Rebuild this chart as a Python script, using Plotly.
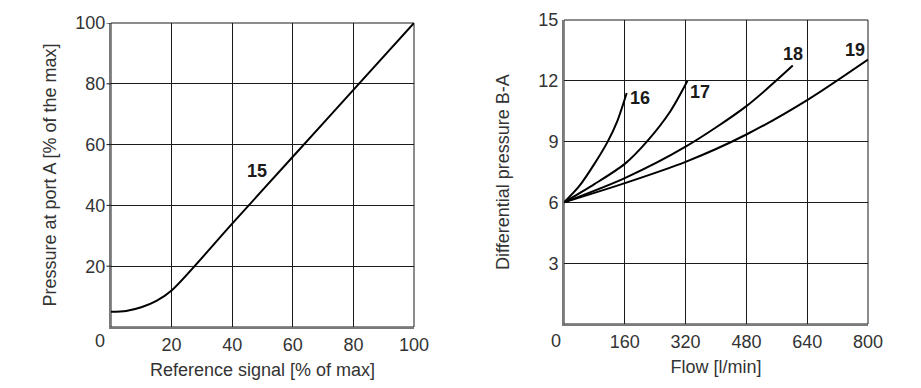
import plotly.graph_objects as go

# Left chart: pressure at port A vs reference signal (curve 15)
ref_signal = [0, 5, 10, 15, 20, 40, 60, 80, 100]
pressure_a = [5, 5.3, 6.5, 8.6, 12, 34, 56, 78, 100]

# Right chart: differential pressure B-A vs flow
flow_16 = [0, 40, 80, 115, 140, 165]
dp_16 = [6, 6.8, 7.9, 9, 10, 11.4]
flow_17 = [0, 80, 160, 218, 280, 325]
dp_17 = [6, 6.9, 7.9, 9, 10.5, 12]
flow_18 = [0, 160, 320, 480, 602]
dp_18 = [6, 7.2, 8.75, 10.75, 12.75]
flow_19 = [0, 160, 320, 480, 640, 800]
dp_19 = [6, 6.95, 8.0, 9.35, 11.05, 13.05]

curve_labels = ["15", "16", "17", "18", "19"]
label_pos = [(48.2, 51.3), (200, 11.15), (358, 11.45), (603, 13.3), (766, 13.5)]

left_xticks = [20, 40, 60, 80, 100]
left_yticks = [20, 40, 60, 80, 100]
right_xticks = [160, 320, 480, 640, 800]
right_yticks = [3, 6, 9, 12, 15]

FONT = "Liberation Sans"
TXT = "#333333"
FS = 18

fig = go.Figure()
line = dict(color="black", width=2, shape="spline", smoothing=0.8)
fig.add_trace(go.Scatter(x=ref_signal, y=pressure_a, mode="lines", line=line, xaxis="x", yaxis="y"))
for fx, dy in [(flow_16, dp_16), (flow_17, dp_17), (flow_18, dp_18), (flow_19, dp_19)]:
    fig.add_trace(go.Scatter(x=fx, y=dy, mode="lines", line=line, xaxis="x2", yaxis="y2"))

ax_common = dict(showline=True, linecolor="#7a7a7a", linewidth=2, mirror=False,
                 showgrid=True, gridcolor="#1a1a1a", gridwidth=1, zeroline=False,
                 ticks="", tickfont=dict(family=FONT, size=FS, color=TXT), automargin=False,
                 title_font=dict(family=FONT, size=FS, color=TXT))

fig.update_layout(
    width=921, height=388, margin=dict(l=0, r=0, t=0, b=0),
    paper_bgcolor="white", plot_bgcolor="white", showlegend=False,
    font=dict(family=FONT, color=TXT),
    xaxis=dict(domain=[111/921, 414/921], range=[0, 100], tickvals=left_xticks,
               title=dict(text="Reference signal [% of max]", standoff=10), anchor="y", **ax_common),
    yaxis=dict(domain=[1-327/388, 1-23/388], range=[0, 100], tickvals=left_yticks,
               title=dict(text="Pressure at port A [% of the max]", standoff=14), anchor="x", **ax_common),
    xaxis2=dict(domain=[564/921, 868/921], range=[0, 800], tickvals=right_xticks,
                title=dict(text="Flow [l/min]", standoff=10), anchor="y2", **ax_common),
    yaxis2=dict(domain=[1-324/388, 1-20/388], range=[0, 15], tickvals=right_yticks,
                title=dict(text="Differential pressure B-A", standoff=24), anchor="x2", **ax_common),
)

# top / right border lines
fig.add_shape(type="rect", xref="x domain", yref="y domain", x0=0, x1=1, y0=0, y1=1,
              line=dict(color="#1a1a1a", width=1), layer="below")
fig.add_shape(type="rect", xref="x2 domain", yref="y2 domain", x0=0, x1=1, y0=0, y1=1,
              line=dict(color="#1a1a1a", width=1), layer="below")
# short outside tick marks on left chart's y axis
for tv in left_yticks:
    fig.add_shape(type="line", xref="x domain", yref="y", x0=-0.015, x1=0, y0=tv, y1=tv,
                  line=dict(color="#1a1a1a", width=1))

# origin "0" labels
for x0 in (100, 556):
    fig.add_annotation(text="0", xref="paper", yref="paper", x=x0/921, y=1-341/388,
                       xanchor="center", yanchor="middle",
                       showarrow=False, font=dict(family=FONT, size=FS, color=TXT))

# curve labels
for i, (lab, (lx, ly)) in enumerate(zip(curve_labels, label_pos)):
    xr, yr = ("x", "y") if i == 0 else ("x2", "y2")
    fig.add_annotation(text="<b>%s</b>" % lab, x=lx, y=ly, xref=xr, yref=yr, showarrow=False,
                       font=dict(family=FONT, size=18, color="#1a1a1a"))

fig.write_html("out.html", config={"displayModeBar": False},
               post_script="document.body.style.margin='0';")
